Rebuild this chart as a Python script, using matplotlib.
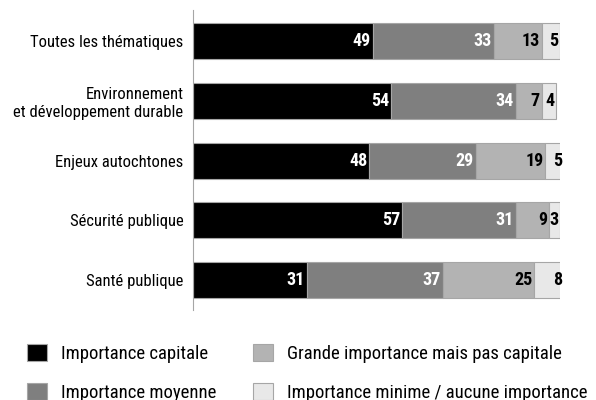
import matplotlib
matplotlib.use("Agg")
import matplotlib.pyplot as plt
from matplotlib.patches import Patch

plt.rcParams['font.family'] = ['Roboto Condensed', 'DejaVu Sans']

categories = ["Toutes les thématiques",
              "Environnement\net développement durable",
              "Enjeux autochtones",
              "Sécurité publique",
              "Santé publique"]
capitale = [49, 54, 48, 57, 31]
moyenne = [33, 34, 29, 31, 37]
grande = [13, 7, 19, 9, 25]
minime = [5, 4, 5, 3, 8]

series = [capitale, moyenne, grande, minime]
series_names = ["Importance capitale", "Importance moyenne",
                "Grande importance mais pas capitale",
                "Importance minime / aucune importance"]
colors = ["#000000", "#7f7f7f", "#b3b3b3", "#e8e8e8"]
text_colors = ["white", "white", "black", "black"]

fig = plt.figure(figsize=(5.96, 4.0), dpi=100)
ax = fig.add_axes([193 / 596, 90 / 400, 367 / 596, 300 / 400])

y = list(range(len(categories)))
left = [0] * len(categories)
for vals, col, tcol in zip(series, colors, text_colors):
    bars = ax.barh(y, vals, left=left, height=0.6, color=col,
                   edgecolor="#a6a6a6", linewidth=0.8)
    for b, v in zip(bars, vals):
        ax.text(b.get_x() + b.get_width() - 0.5, b.get_y() + b.get_height() / 2,
                str(v), ha="right", va="center", color=tcol,
                fontsize=13, fontweight="bold")
    left = [l + v for l, v in zip(left, vals)]

ax.set_xlim(0, 100)
ax.set_ylim(4.5, -0.52)
ax.set_yticks(y)
ax.set_yticklabels(categories, fontsize=12)
ax.tick_params(axis="y", length=0, pad=7)
ax.set_xticks([])
for s in ["top", "right", "bottom"]:
    ax.spines[s].set_visible(False)
ax.spines["left"].set_color("#a6a6a6")
ax.spines["left"].set_linewidth(0.8)

handles = [Patch(facecolor=c, edgecolor="#a6a6a6", linewidth=0.8) for c in colors]
fig.legend(handles, series_names, ncol=2, frameon=False, fontsize=13.5,
           loc="upper left", bbox_to_anchor=(0.033, 0.16),
           handlelength=1.07, handleheight=1.07, handletextpad=0.75,
           columnspacing=1.95, labelspacing=1.06, borderaxespad=0)

fig.savefig("out.png", dpi=100)
